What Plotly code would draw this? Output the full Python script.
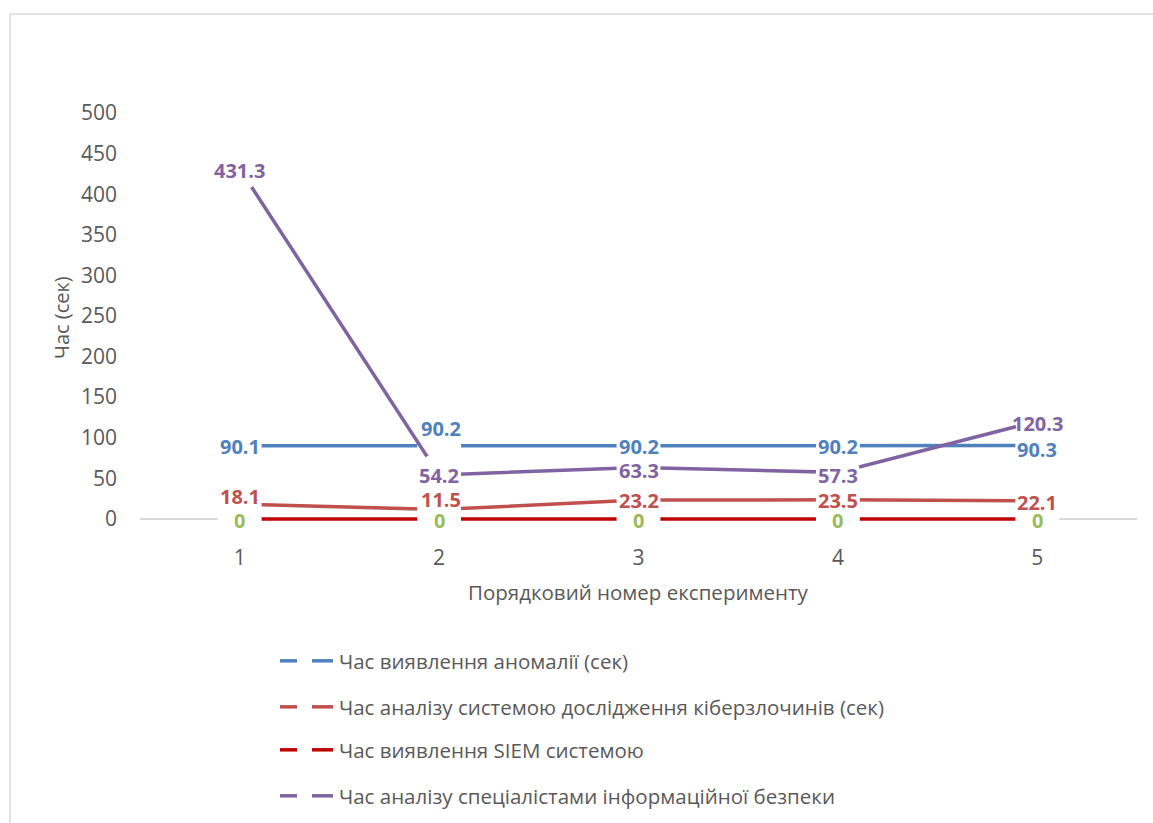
import plotly.graph_objects as go

# Experiment numbers and measured times (seconds)
experiments = ["1", "2", "3", "4", "5"]
anomaly_detection = [90.1, 90.2, 90.2, 90.2, 90.3]
forensic_analysis = [18.1, 11.5, 23.2, 23.5, 22.1]
siem_detection = [0, 0, 0, 0, 0]
specialist_analysis = [431.3, 54.2, 63.3, 57.3, 120.3]

series_names = [
    "Час виявлення аномалії (сек)",
    "Час аналізу системою дослідження кіберзлочинів (сек)",
    "Час виявлення SIEM системою",
    "Час аналізу спеціалістами інформаційної безпеки",
]
y_ticks = [0, 50, 100, 150, 200, 250, 300, 350, 400, 450, 500]

W, H = 1153, 823
L, R = 140, 1137          # plot area left/right in pixels
Y_TOP, Y_ZERO = 113, 519  # pixel rows of 500 and 0
Y_MIN = -10               # small headroom so the zero line is not clipped
PX_PER_UNIT = (Y_ZERO - Y_TOP) / 500
B = Y_ZERO - Y_MIN * PX_PER_UNIT
T = Y_TOP

line_colors = ["#4F81BD", "#C0504D", "#C00000", "#8064A2"]
label_colors = ["#4F81BD", "#C0504D", "#9BBB59", "#8064A2"]
series = [anomaly_detection, forensic_analysis, siem_detection, specialist_analysis]

# per-label offsets (xshift, yshift) in pixels, positive yshift = up
label_shift = [
    [(0, 0), (2, 18), (0, 0), (0, 0), (0, -3)],
    [(0, 8), (2, 11), (0, 0), (0, 0), (0, -1)],
    [(0, -1), (0, -1), (0, -1), (0, -1), (0, -1)],
    [(0, -1), (0, 0), (0, -2), (0, -3), (0, -2)],
]

FONT = "Open Sans"
GREY = "#595959"


def px_x(p):
    return (p - L) / (R - L)


def px_y(p):
    return (B - p) / (B - T)


fig = go.Figure()
for name, vals, col in zip(series_names, series, line_colors):
    fig.add_trace(go.Scatter(
        x=experiments, y=vals, mode="lines", name=name,
        line=dict(color=col, width=3.5), showlegend=False,
    ))
    # white discs leave room for each data label around its own points
    fig.add_trace(go.Scatter(
        x=experiments, y=vals, mode="markers", hoverinfo="skip",
        marker=dict(color="white", size=44, line=dict(width=0)),
        showlegend=False, cliponaxis=False,
    ))

annotations = []
for vals, col, shifts in zip(series, label_colors, label_shift):
    for idx, (yv, (dx, dy)) in enumerate(zip(vals, shifts)):
        annotations.append(dict(
            x=idx, y=yv, xref="x", yref="y", text=f"<b>{yv:g}</b>",
            showarrow=False, height=18,
            xanchor="center", yanchor="middle",
            xshift=dx, yshift=dy,
            font=dict(family=FONT, size=20, color=col),
        ))

# axis titles
annotations.append(dict(
    x=px_x(62), y=px_y(318), xref="paper", yref="paper", text="Час (сек)",
    textangle=-90, showarrow=False, xanchor="center", yanchor="middle",
    font=dict(family=FONT, size=20, color=GREY),
))
annotations.append(dict(
    x=px_x(638), y=px_y(592), xref="paper", yref="paper",
    text="Порядковий номер експерименту", xanchor="center", yanchor="middle",
    showarrow=False, font=dict(family=FONT, size=20.5, color=GREY),
))

shapes = [
    # outer chart frame
    dict(type="rect", xref="paper", yref="paper",
         x0=px_x(10), x1=px_x(1165), y0=px_y(835), y1=px_y(14),
         line=dict(color="#D9D9D9", width=1.5), layer="below"),
]

# legend block
legend_rows = [661, 707, 750, 796]
for name, col, py in zip(series_names, line_colors, legend_rows):
    for a, b in [(280, 297), (312, 333)]:
        shapes.append(dict(type="line", xref="paper", yref="paper",
                           x0=px_x(a), x1=px_x(b), y0=px_y(py), y1=px_y(py),
                           line=dict(color=col, width=3.5)))
    annotations.append(dict(
        x=px_x(337), y=px_y(py), xref="paper", yref="paper", text=name,
        xanchor="left", yanchor="middle", showarrow=False,
        font=dict(family=FONT, size=20.5, color=GREY),
    ))

fig.update_layout(
    width=W, height=H,
    margin=dict(l=L, r=W - R, t=T, b=H - B),
    paper_bgcolor="white", plot_bgcolor="white",
    showlegend=False,
    font=dict(family=FONT, color=GREY),
    xaxis=dict(
        type="category", range=[-0.5, 4.5], showgrid=False, zeroline=False,
        showline=False, ticks="", tickfont=dict(family=FONT, size=21, color=GREY),
        ticklabelstandoff=16,
    ),
    yaxis=dict(
        range=[Y_MIN, 500], tickvals=y_ticks, showgrid=False, zeroline=True,
        zerolinecolor="#D9D9D9", zerolinewidth=1.5, showline=False, ticks="",
        tickfont=dict(family=FONT, size=21, color=GREY), ticklabelstandoff=22,
    ),
    annotations=annotations,
    shapes=shapes,
)

fig.write_html("out.html")
